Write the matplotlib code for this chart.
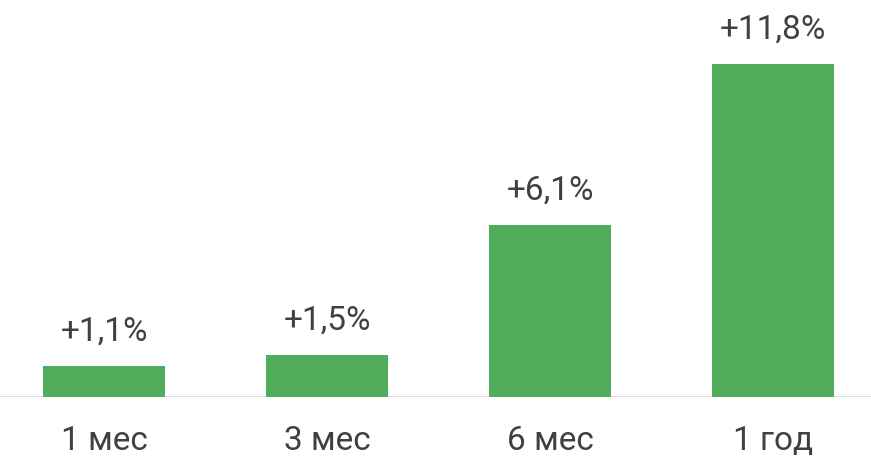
import matplotlib
matplotlib.use("Agg")
import matplotlib.pyplot as plt
import numpy as np

periods = ["1 мес", "3 мес", "6 мес", "1 год"]
growth = [1.1, 1.5, 6.1, 11.8]
value_labels = ["+1,1%", "+1,5%", "+6,1%", "+11,8%"]

plt.rcParams["font.family"] = ["Roboto", "DejaVu Sans"]

fig = plt.figure(figsize=(8.71, 4.68), dpi=100)
ax = fig.add_axes([0, 71 / 468, 1, 397 / 468])

x = np.arange(len(periods))
ax.bar(x, growth, width=0.547, color="#4fad5b", zorder=2)

for xi, v, lab in zip(x, growth, value_labels):
    ax.annotate(lab, (xi, v), xytext=(0, 13), textcoords="offset points",
                ha="center", va="bottom", fontsize=24, color="#404040")

ax.set_xlim(-104 / 223, (871 - 104) / 223)
ax.set_ylim(0, 14.07)
ax.axhline(0, color="#d9d9d9", linewidth=2, zorder=1)

ax.set_xticks(x)
ax.set_xticklabels(periods, fontsize=24, color="#404040")
ax.tick_params(axis="x", length=0, pad=20)
ax.set_yticks([])
for s in ax.spines.values():
    s.set_visible(False)

fig.savefig("out.png", dpi=100)
